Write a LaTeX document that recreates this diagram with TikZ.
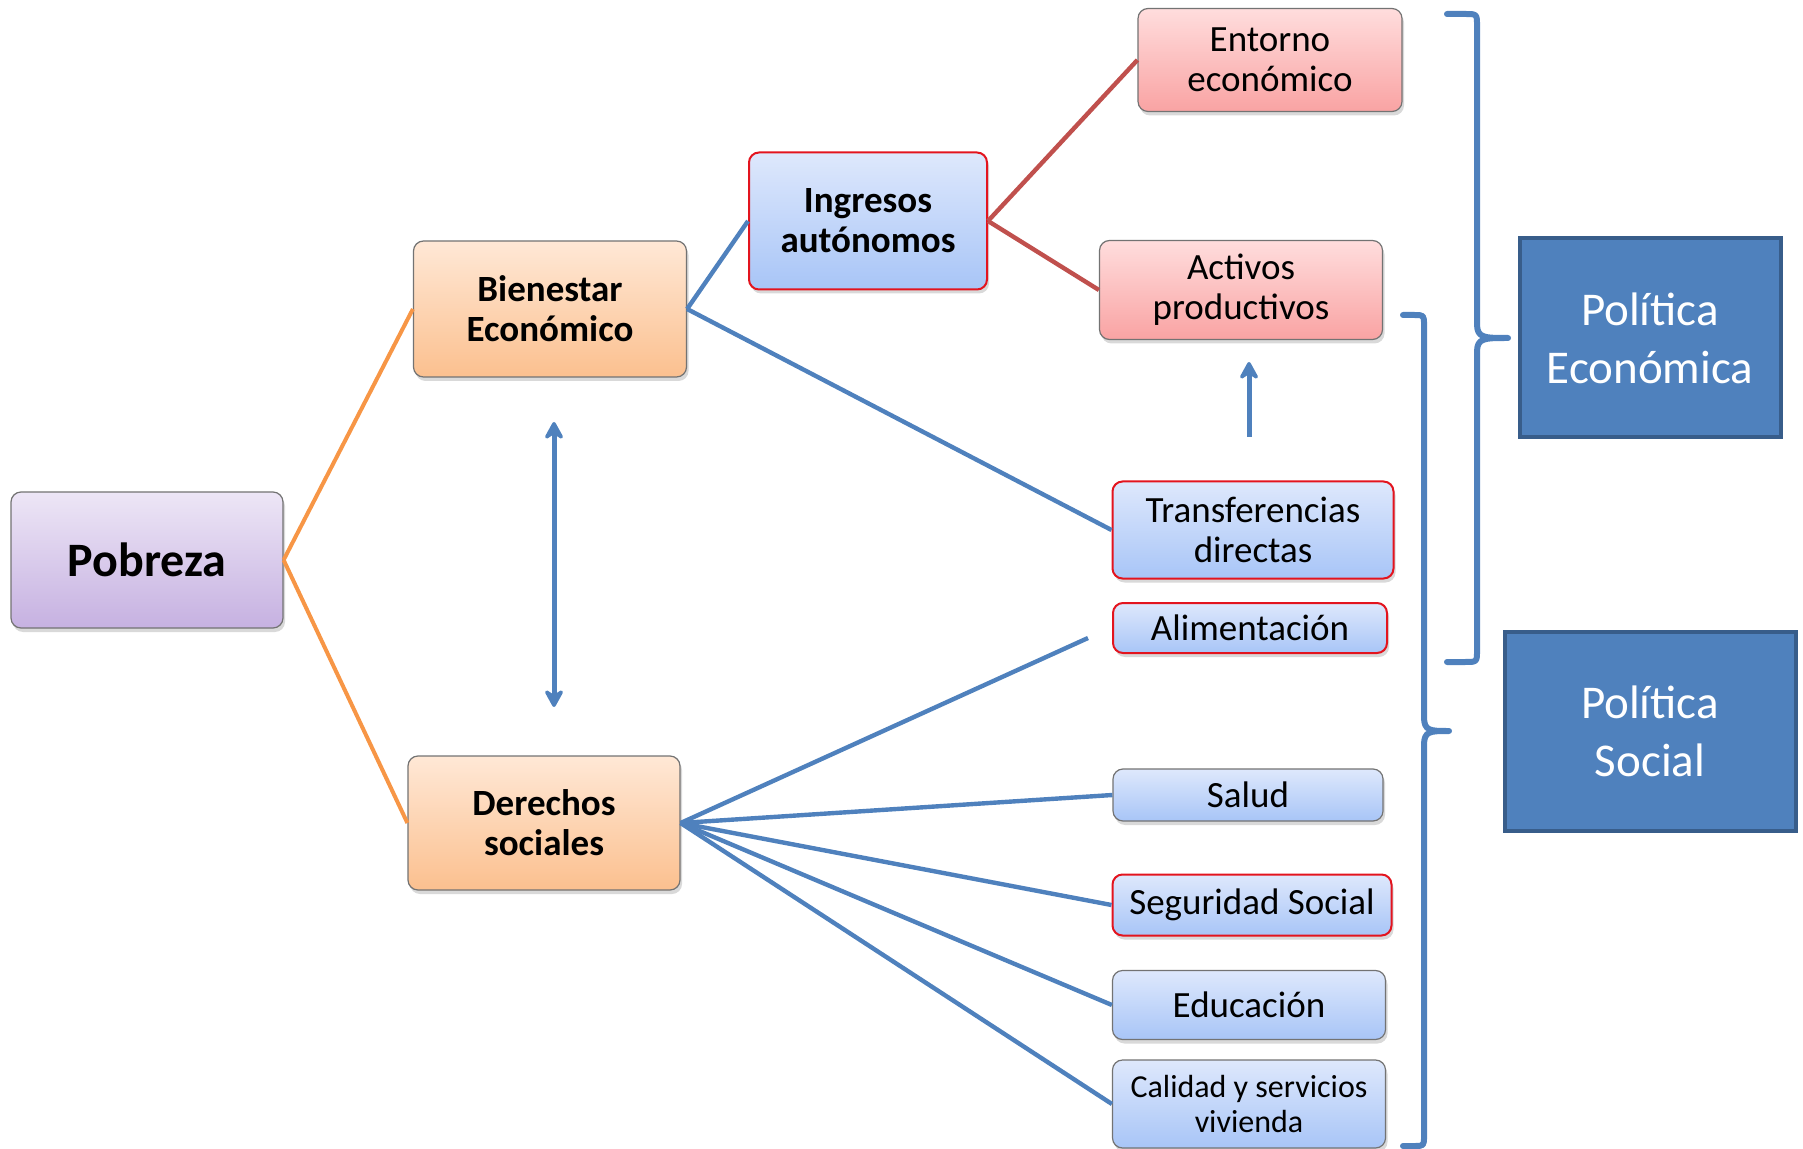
\documentclass[tikz,border=0pt]{standalone}
\usepackage{fontspec}
\setmainfont{Carlito}
\usetikzlibrary{shadows,arrows.meta}
\definecolor{C1}{HTML}{F79646}
\definecolor{C2}{HTML}{4F81BD}
\definecolor{C3}{HTML}{C0504D}
\definecolor{C4}{HTML}{385D8A}
\definecolor{C5}{HTML}{E3141E}

\begin{document}
\begin{tikzpicture}[x=0.5pt,y=-0.5pt]
\tikzstyle{n} = [rounded corners=5pt,draw=black!55,line width=0.6pt,align=center,inner sep=0pt,
  drop shadow={opacity=0.3,shadow xshift=1pt,shadow yshift=-2pt},font=\fontsize{18.5}{20}\selectfont]
\tikzstyle{pl} = [n,top color={rgb,255:red,237;green,230;blue,246},bottom color={rgb,255:red,198;green,177;blue,225}]
\tikzstyle{na} = [n,top color={rgb,255:red,255;green,232;blue,214},bottom color={rgb,255:red,251;green,192;blue,143},font=\bfseries\fontsize{18.5}{20}\selectfont]
\tikzstyle{az} = [n,top color={rgb,255:red,222;green,232;blue,252},bottom color={rgb,255:red,168;green,197;blue,247}]
\tikzstyle{ro} = [n,top color={rgb,255:red,255;green,221;blue,221},bottom color={rgb,255:red,249;green,163;blue,163}]
\tikzstyle{rb} = [draw=C5,line width=1pt]
\tikzstyle{pol} = [fill=C2,draw=C4,line width=2pt,text=white,align=center,font=\fontsize{23.5}{29}\selectfont]
\tikzstyle{lo} = [C1,line width=2pt]
\tikzstyle{la} = [C2,line width=2.2pt]
\tikzstyle{lr} = [C3,line width=2.2pt]
\tikzstyle{ar} = [C2,line width=2.5pt,arrows={-Stealth[length=11pt,width=12pt,inset=4pt,round]}]
\tikzstyle{ar2} = [C2,line width=2.5pt,arrows={Stealth[length=11pt,width=12pt,inset=4pt,round]-Stealth[length=11pt,width=12pt,inset=4pt,round]}]
\tikzstyle{br} = [C2,line width=3pt,line join=round,line cap=round]
\useasboundingbox (0,0) rectangle (1803,1149);

% cajas
\node[pl,minimum width=136pt,minimum height=68pt,font=\bfseries\fontsize{24}{28}\selectfont] (pob) at (147,560) {Pobreza};
\node[na,minimum width=136.5pt,minimum height=68pt] (bien) at (550,309) {Bienestar\\Económico};
\node[na,minimum width=136pt,minimum height=67pt] (der) at (544,823) {Derechos\\sociales};
\node[az,rb,minimum width=119pt,minimum height=68.5pt,font=\bfseries\fontsize{18.5}{20}\selectfont] (ing) at (868,221) {Ingresos\\autónomos};
\node[ro,minimum width=132pt,minimum height=51.5pt] (ent) at (1270,60) {Entorno\\económico};
\node[ro,minimum width=141.5pt,minimum height=49.5pt] (act) at (1241,290) {Activos\\productivos};
\node[az,rb,minimum width=140.5pt,minimum height=48.5pt] (trans) at (1253,530) {Transferencias\\directas};
\node[az,rb,minimum width=137pt,minimum height=25pt] (ali) at (1250,628) {Alimentación};
\node[az,minimum width=135pt,minimum height=26pt] (sal) at (1248,795) {Salud};
\node[az,rb,minimum width=139.5pt,minimum height=30.5pt] (seg) at (1252,905) {Seguridad Social};
\node[az,minimum width=136.5pt,minimum height=34.5pt] (edu) at (1249,1005) {Educación};
\node[az,minimum width=136.5pt,minimum height=44pt,font=\fontsize{16}{17.5}\selectfont] (cal) at (1249,1104) {Calidad y servicios\\vivienda};
\node[pol,minimum width=130.5pt,minimum height=99.5pt] (pe) at (1650,338) {Política\\Económica};
\node[pol,minimum width=145.5pt,minimum height=99.5pt] (ps) at (1650,731) {Política\\Social};

% lineas
\draw[lo] (pob.east) -- (bien.west);
\draw[lo] (pob.east) -- (der.west);
\draw[la] (bien.east) -- (ing.west);
\draw[la] (bien.east) -- (trans.west);
\draw[lr] (ing.east) -- (ent.west);
\draw[lr] (ing.east) -- (act.west);
\coordinate (alif) at (1088,638);
\draw[la] (der.east) -- (alif);
\draw[la] (der.east) -- (sal.west);
\draw[la] (der.east) -- (seg.west);
\draw[la] (der.east) -- (edu.west);
\draw[la] (der.east) -- (cal.west);

% flechas
\coordinate (v1) at (554,422);
\coordinate (v2) at (554,707);
\draw[ar2] (v1) -- (v2);
\coordinate (u1) at (1249,437);
\coordinate (u2) at (1249,362);
\draw[ar] (u1) -- (u2);

% llaves
\draw[br] (1447,14) -- (1465,14) .. controls (1477,14) .. (1477,26) -- (1477,324)
  .. controls (1477,338) and (1484,338) .. (1508,338)
  .. controls (1484,338) and (1477,338) .. (1477,352) -- (1477,650)
  .. controls (1477,662) .. (1465,662) -- (1447,662);
\draw[br] (1403,315) -- (1414,315) .. controls (1424,315) .. (1424,325) -- (1424,717)
  .. controls (1424,731) and (1430,731) .. (1449,731)
  .. controls (1430,731) and (1424,731) .. (1424,745) -- (1424,1136)
  .. controls (1424,1146) .. (1414,1146) -- (1403,1146);
\end{tikzpicture}
\end{document}
